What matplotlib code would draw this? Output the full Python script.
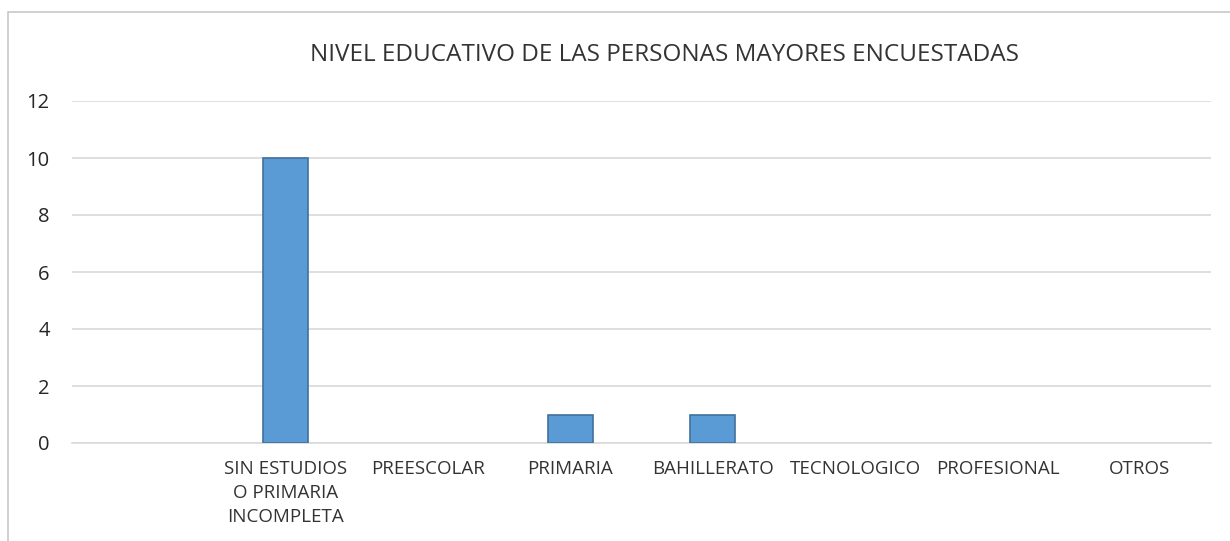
import matplotlib
matplotlib.use("Agg")
import matplotlib.pyplot as plt
from matplotlib.patches import Rectangle

# Data
categories = ["", "SIN ESTUDIOS\nO PRIMARIA\nINCOMPLETA", "PREESCOLAR", "PRIMARIA",
              "BAHILLERATO", "TECNOLOGICO", "PROFESIONAL", "OTROS"]
values = [0, 10, 0, 1, 1, 0, 0, 0]
yticks = [0, 2, 4, 6, 8, 10, 12]

plt.rcParams["font.family"] = ["Open Sans", "DejaVu Sans"]

fig = plt.figure(figsize=(12.3, 5.41), dpi=100)

# chart border
fig.patches.append(Rectangle((8 / 1230, -0.01), 1.5, 1 - 12 / 541 + 0.01,
                             transform=fig.transFigure, fill=False,
                             edgecolor="#c8c8c8", linewidth=1.2))

ax = fig.add_axes([72 / 1230, 98 / 541, (1211 - 72) / 1230, (443 - 101) / 541])

x = range(len(categories))
edges = ["#41719c" if v > 0 else "none" for v in values]
ax.bar(x, values, width=0.32, color="#5b9bd5", edgecolor=edges, linewidth=1.2, zorder=3)

ax.set_xlim(-0.5, len(categories) - 0.5)
ax.set_ylim(0, 12)
ax.set_yticks(yticks)
ax.set_xticks(list(x))
ax.set_xticklabels(categories, fontsize=13.5, color="#333333", linespacing=1.45, va="top")
ax.tick_params(axis="y", labelsize=14.5, labelcolor="#262626", length=0, pad=16)
ax.tick_params(axis="x", length=0, pad=12)

ax.grid(axis="y", color="#d9d9d9", linewidth=1.2, zorder=0)
for s in ["top", "right", "left"]:
    ax.spines[s].set_visible(False)
ax.spines["bottom"].set_color("#d9d9d9")
ax.spines["bottom"].set_linewidth(1.2)

fig.text(665 / 1230, 1 - 55 / 541, "NIVEL EDUCATIVO DE LAS PERSONAS MAYORES ENCUESTADAS",
         ha="center", va="center", fontsize=17.5, color="#333333")

fig.savefig("out.png", dpi=100)
